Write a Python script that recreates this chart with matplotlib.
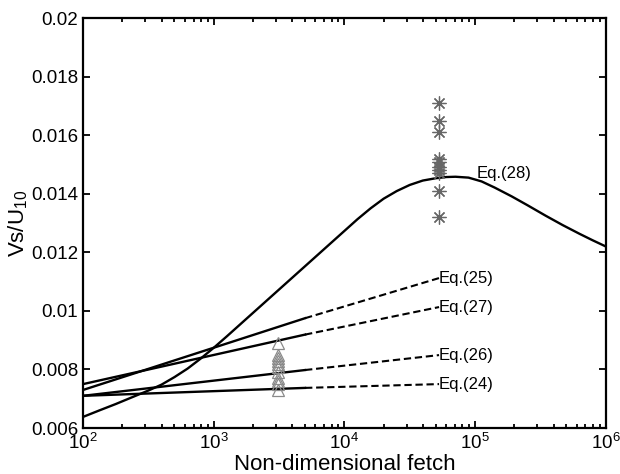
import matplotlib
matplotlib.use("Agg")
import matplotlib.pyplot as plt
from matplotlib.ticker import FixedLocator, FuncFormatter, LogLocator

plt.rcParams['font.family'] = ['Liberation Sans', 'DejaVu Sans']
plt.rcParams['mathtext.default'] = 'regular'

# Eq.(28) curve
x28 = [100, 133, 178, 237, 316, 398, 501, 631, 794, 1000, 1259, 1778,
       2512, 3548, 5012, 6310, 7943, 10000, 12589, 15849, 19953, 25119,
       31623, 39811, 50119, 60256, 70795, 89125, 112200, 141250, 190550,
       251190, 346740, 467740, 630960, 794330, 1000000]
y28 = [0.00638, 0.0066, 0.00682, 0.00705, 0.00728, 0.00748, 0.00774,
       0.00803, 0.00837, 0.00874, 0.00913, 0.00973, 0.01033, 0.01093,
       0.01153, 0.01193, 0.01233, 0.01273, 0.01313, 0.0135, 0.01383,
       0.01409, 0.0143, 0.01445, 0.01453, 0.01457, 0.01458, 0.01455,
       0.01442, 0.01421, 0.01391, 0.01361, 0.01325, 0.01293, 0.01263,
       0.01241, 0.0122]

# straight lines: value at start, at end of solid part, at end of dashed part
x_lines = [100, 5000, 53000]
eq24 = [0.0071, 0.00737, 0.0075]
eq25 = [0.0073, 0.00975, 0.01112]
eq26 = [0.0071, 0.00798, 0.00849]
eq27 = [0.0075, 0.00919, 0.01013]

# measurements
x_tri = 3100
y_tri = [0.0089, 0.0085, 0.0084, 0.0083, 0.0082, 0.0081, 0.0079,
         0.0077, 0.0076, 0.0075, 0.0073]
x_star = 53000
y_star = [0.0171, 0.0165, 0.0161, 0.0152, 0.0151, 0.0149, 0.0148,
          0.0147, 0.0141, 0.0132]

fig = plt.figure(figsize=(6.2, 4.74), dpi=100)
ax = fig.add_axes([0.134, 0.097, 0.843, 0.865])

ax.plot(x28, y28, color='black', lw=1.7)
for y in [eq24, eq25, eq26, eq27]:
    ax.plot(x_lines[:2], y[:2], color='black', lw=1.7)
    ax.plot(x_lines[1:], y[1:], color='black', lw=1.5, dashes=(3.5, 1.8))

ax.plot([x_tri] * len(y_tri), y_tri, ls='none', marker='^', ms=9,
        mfc='none', mec='#8a8a8a', mew=0.9)
ax.plot([x_star] * len(y_star), y_star, ls='none', marker=(8, 2, 0), ms=10,
        color='#666666', mew=0.9)

ax.text(1.02e5, 0.0147, 'Eq.(28)', fontsize=12, va='center', ha='left')
for y, name in [(eq25, 'Eq.(25)'), (eq27, 'Eq.(27)'),
                (eq26, 'Eq.(26)'), (eq24, 'Eq.(24)')]:
    ax.text(5.3e4, y[2], name, fontsize=12, va='center', ha='left')

ax.set_xscale('log')
ax.set_xlim(1e2, 1e6)
ax.set_ylim(0.006, 0.02)
ax.yaxis.set_major_locator(FixedLocator([0.006, 0.008, 0.01, 0.012,
                                         0.014, 0.016, 0.018, 0.02]))
ax.yaxis.set_major_formatter(FuncFormatter(lambda v, p: '%g' % v))
ax.xaxis.set_minor_locator(LogLocator(base=10, subs=range(2, 10)))

ax.tick_params(which='both', direction='in', top=True, right=True,
               labelsize=13.5, width=1.3)
ax.tick_params(which='major', length=5)
ax.tick_params(which='minor', length=3)
for s in ax.spines.values():
    s.set_linewidth(1.6)

ax.set_xlabel('Non-dimensional fetch', fontsize=16, labelpad=0.5)
ax.set_ylabel('Vs/U$_{10}$', fontsize=16, labelpad=1)

fig.savefig('out.png', dpi=100)
